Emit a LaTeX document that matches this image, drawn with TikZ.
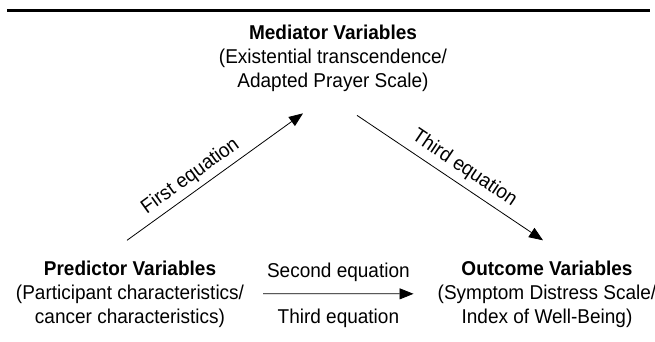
\documentclass[tikz,border=0pt]{standalone}
\usepackage{fontspec}
\setmainfont[FakeStretch=0.95]{Liberation Sans}
\usetikzlibrary{arrows.meta, positioning}
\tikzset{
  var/.style={align=center, inner sep=0pt, anchor=base, font=\fontsize{20}{24}\selectfont},
  eqn/.style={font=\fontsize{20}{24}\selectfont, inner sep=2pt},
  link/.style={-{Triangle[length=14pt,width=11pt]}, line width=0.8pt},
}
\begin{document}
\begin{tikzpicture}[x=1pt, y=-1pt]
\useasboundingbox (0,0) rectangle (655,341);
\draw[line width=3pt] (7,10) -- (650,10);
% base anchor sits on the last line
\node[var] (med) at (333,87) {\textbf{Mediator Variables}\\(Existential transcendence/\\Adapted Prayer Scale)};
\node[var] (pred) at (130,323) {\textbf{Predictor Variables}\\(Participant characteristics/\\cancer characteristics)};
\node[var] (out) at (547,323) {\textbf{Outcome Variables}\\(Symptom Distress Scale/\\Index of Well-Being)};
\draw[link] ([xshift=19pt]pred.east) -- node[eqn, above=10pt] {Second equation} node[eqn, below=13pt] {Third equation} ([xshift=-24pt]out.west);
\draw[link] ([xshift=-3pt, yshift=20pt]pred.north) -- node[eqn, sloped, above=3pt, pos=0.41] {First equation} ([xshift=-30pt, yshift=-22pt]med.south);
\draw[link] ([xshift=24pt, yshift=-24pt]med.south) -- node[eqn, sloped, above=4pt, pos=0.53] {Third equation} ([xshift=-4pt, yshift=20pt]out.north);
\end{tikzpicture}
\end{document}
